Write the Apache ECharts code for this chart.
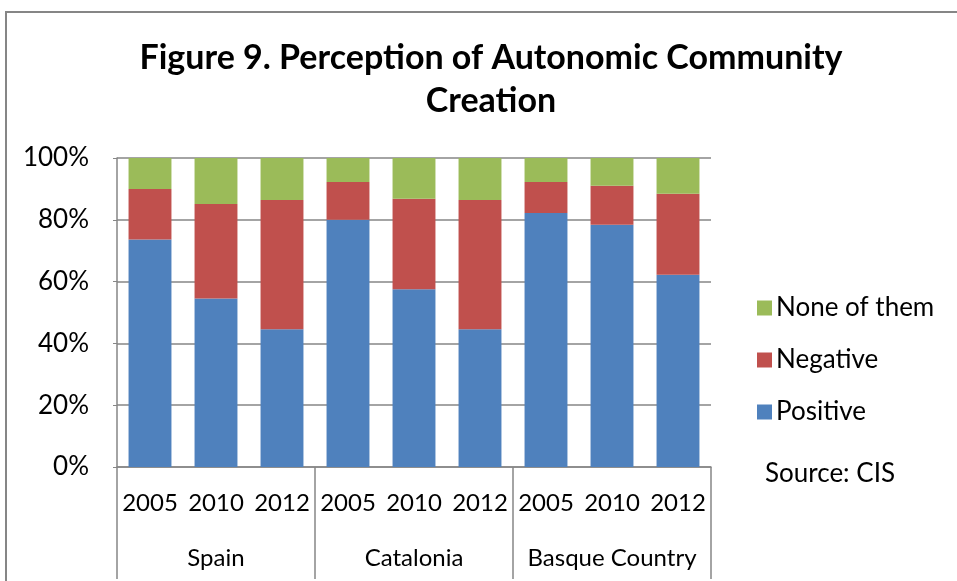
<!DOCTYPE html>
<html>
<head>
<meta charset="utf-8">
<script src="https://cdn.jsdelivr.net/npm/echarts@6/dist/echarts.min.js"></script>
<style>html,body{margin:0;padding:0;background:#fff}#c{width:957px;height:581px}</style>
</head>
<body>
<div id="c"></div>
<script>
const years = ['2005','2010','2012','2005','2010','2012','2005','2010','2012'];
const groups = ['Spain','Catalonia','Basque Country'];
const positive = [73.6, 54.5, 44.6, 80.0, 57.5, 44.6, 82.2, 78.4, 62.2];
const negative = [16.4, 30.6, 41.8, 12.2, 29.3, 41.8, 10.0, 12.6, 26.2];
const noneOfThem = [10.0, 14.9, 13.6, 7.8, 13.2, 13.6, 7.8, 9.0, 11.6];
const yTicks = [0, 20, 40, 60, 80, 100];

const FONT = 'Lato';
const GRAY = '#868686';
const chart = echarts.init(document.getElementById('c'), null, {renderer: 'canvas'});
chart.setOption({
  animation: false,
  backgroundColor: '#fff',
  title: {
    text: 'Figure 9. Perception of Autonomic Community\nCreation',
    left: 486, top: 32, textAlign: 'center',
    textStyle: {fontFamily: FONT, fontWeight: 'bold', fontSize: 34, color: '#000', lineHeight: 43}
  },
  grid: {left: 117, right: 246, top: 158, bottom: 114, containLabel: false},
  legend: {
    orient: 'vertical', left: 752, top: 290,
    data: ['None of them', 'Negative', 'Positive'],
    icon: 'rect', itemWidth: 15, itemHeight: 15, itemGap: 26,
    textStyle: {fontFamily: FONT, fontSize: 26, color: '#000', padding: [0,0,0,-1]},
    selectedMode: false
  },
  xAxis: [
    {
      type: 'category', data: years, position: 'bottom',
      axisLine: {show: true, lineStyle: {color: GRAY, width: 1.5}},
      axisTick: {show: false},
      axisLabel: {fontFamily: FONT, fontSize: 24, color: '#000', margin: 24, interval: 0}
    },
    {
      type: 'category', data: groups, position: 'bottom',
      axisLine: {show: false},
      axisTick: {show: true, length: 112, interval: 0, lineStyle: {color: GRAY, width: 1.5}},
      axisLabel: {fontFamily: FONT, fontSize: 24, color: '#000', margin: 79, interval: 0}
    }
  ],
  yAxis: {
    type: 'value', min: yTicks[0], max: yTicks[yTicks.length-1], interval: 20,
    axisLine: {show: true, lineStyle: {color: GRAY, width: 1.5}},
    axisTick: {show: true, length: 4, lineStyle: {color: GRAY}},
    splitLine: {show: true, lineStyle: {color: GRAY, width: 1.5}},
    axisLabel: {fontFamily: FONT, fontSize: 26, color: '#000', margin: 28, formatter: '{value}%'}
  },
  series: [
    {name: 'Positive', type: 'bar', stack: 's', data: positive, barWidth: '65%', itemStyle: {color: '#4F81BD'}},
    {name: 'Negative', type: 'bar', stack: 's', data: negative, itemStyle: {color: '#C0504D'}},
    {name: 'None of them', type: 'bar', stack: 's', data: noneOfThem, itemStyle: {color: '#9BBB59'}}
  ],
  graphic: [
    {type: 'rect', shape: {x: 6, y: 12, width: 1000, height: 1000}, style: {fill: 'none', stroke: GRAY, lineWidth: 2}, silent: true},
    {type: 'text', left: 765, top: 461, style: {text: 'Source: CIS', fontFamily: FONT, fontSize: 26, fill: '#000'}}
  ]
});
</script>
</body>
</html>
